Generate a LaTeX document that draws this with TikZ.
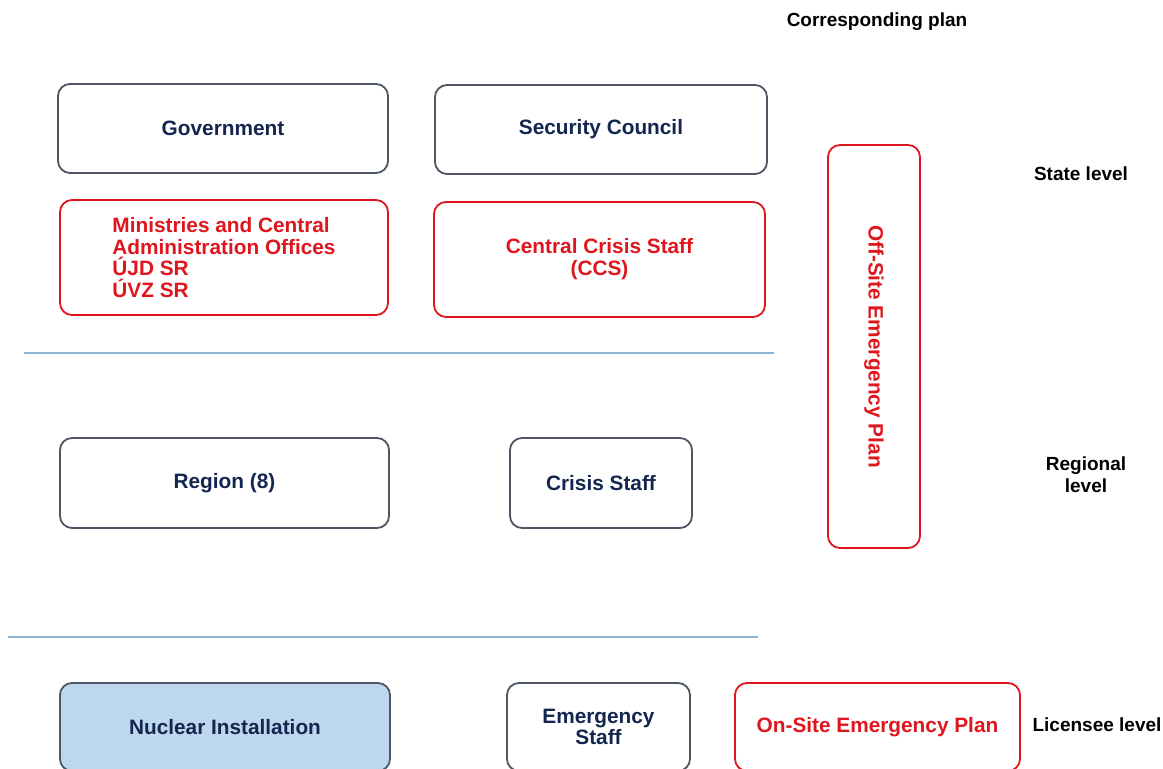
\documentclass[tikz,border=0pt]{standalone}
\usepackage{fontspec}
\setmainfont{Liberation Sans}
\usepackage{xcolor}
\definecolor{navy}{HTML}{132650}
\definecolor{edge}{HTML}{4E5663}
\definecolor{redx}{HTML}{E0161E}
\definecolor{fillb}{HTML}{BDD7EE}
\definecolor{rule}{HTML}{8DB3D3}
\usepackage{tikz}
\usetikzlibrary{positioning}
\tikzset{
  box/.style={draw=edge,rounded corners=6pt,line width=0.9pt,inner sep=2pt,align=center,fill=white,
    font=\fontsize{10.4}{10.9}\selectfont\bfseries\color{navy}},
  rbox/.style={box,draw=redx,font=\fontsize{10.4}{10.9}\selectfont\bfseries\color{redx}},
  nbox/.style={box,fill=fillb},
  lab/.style={font=\fontsize{9.5}{11.2}\selectfont\bfseries,align=center},
  sep/.style={draw=rule,line width=0.6pt},
}
\begin{document}
\begin{tikzpicture}[x=0.5pt,y=-0.5pt]
\useasboundingbox (0,0) rectangle (1163,769);
\clip (0,0) rectangle (1163,769);
% state level
\node[box,minimum width=165pt,minimum height=44.5pt] (gov) at (223,128.5) {Government};
\node[box,minimum width=166pt,minimum height=44.5pt] (secc) at (601,129.5) {Security Council};
\node[rbox,align=left,minimum width=164pt,minimum height=57.5pt] (minis) at (224,257.5)
  {Ministries and Central\\Administration Offices\\ÚJD SR\\ÚVZ SR};
\node[rbox,minimum width=165.5pt,minimum height=57.5pt] (ccs) at (599.5,259.5) {Central Crisis Staff\\(CCS)};
\node[rbox,minimum width=46pt,minimum height=201.5pt] (offsite) at (874,346.5) {};
\node[font=\fontsize{10.4}{10.9}\selectfont\bfseries\color{redx},rotate=-90] (offtxt) at (offsite.center) {Off-Site Emergency Plan};
\draw[sep] (24,353) -- (774,353);
% regional level
\node[box,minimum width=164.5pt,minimum height=45pt] (region) at (224.5,483) {Region (8)};
\node[box,minimum width=91pt,minimum height=45pt] (crisis) at (601,483) {Crisis Staff};
\draw[sep] (8,637) -- (758,637);
% licensee level
\node[nbox,minimum width=165pt,minimum height=44pt] (nuclear) at (225,727) {Nuclear Installation};
\node[box,minimum width=91.5pt,minimum height=44pt] (emstaff) at (598.5,727) {Emergency\\Staff};
\node[rbox,minimum width=142.5pt,minimum height=44pt] (onsite) at (877.5,727) {On-Site Emergency Plan};
% level labels
\node[lab] (corr) at (877,22) {Corresponding plan};
\node[lab] (state) at (1081,174) {State level};
\node[lab] (regl) at (1086,475) {Regional\\level};
\node[lab] (lic) at (1097,725) {Licensee level};
\end{tikzpicture}
\end{document}
